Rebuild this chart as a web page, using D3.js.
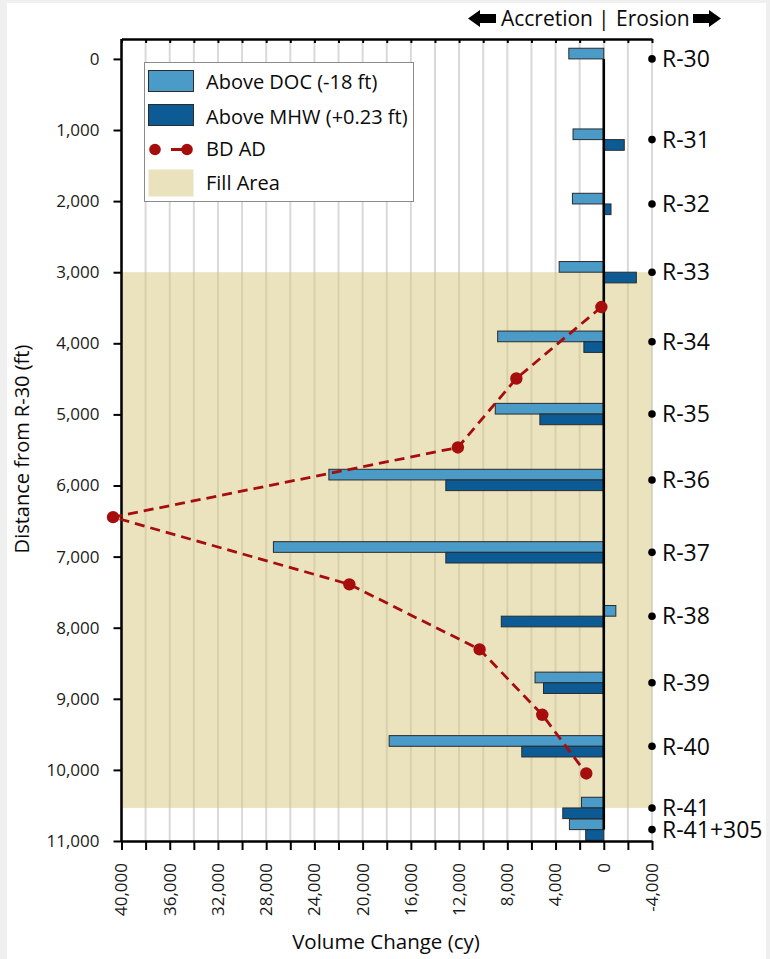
<!DOCTYPE html>
<html>
<head>
<meta charset="utf-8">
<script src="https://cdn.jsdelivr.net/npm/d3@7/dist/d3.min.js"></script>
<style>
  html, body { margin: 0; padding: 0; background: #efefef; }
  svg { display: block; font-family: "Open Sans", sans-serif; }
</style>
</head>
<body>
<svg id="chart" width="770" height="959"></svg>
<script>
// ---------------- data ----------------
const stations = ["R-30","R-31","R-32","R-33","R-34","R-35","R-36","R-37","R-38","R-39","R-40","R-41","R-41+305"];
const stationDist = [0, 1135, 2040, 3000, 3978, 4995, 5922, 6940, 7838, 8775, 9668, 10535, 10840];
const aboveDOC = [2900, 2550, 2600, 3700, 8800, 9000, 22800, 27400, -1000, 5700, 17800, 1850, 2850];
const aboveMHW = [0, -1700, -600, -2700, 1650, 5300, 13100, 13100, 8500, 5000, 6800, 3400, 1500];
const bdDist = [3490, 4495, 5465, 6445, 7390, 8305, 9225, 10050];
const bdVal  = [200, 7250, 12100, 40700, 21100, 10300, 5100, 1450];
const fillStart = 3000, fillEnd = 10535;
const xTicks = [40000, 36000, 32000, 28000, 24000, 20000, 16000, 12000, 8000, 4000, 0, -4000];
const yTicks = [0,1000,2000,3000,4000,5000,6000,7000,8000,9000,10000,11000];
const legendItems = ["Above DOC (-18 ft)", "Above MHW (+0.23 ft)", "BD AD", "Fill Area"];

// ---------------- layout ----------------
const svg = d3.select("#chart");
const L = 121.5, R = 652, T = 39, B = 841;
const x = d3.scaleLinear().domain([40000, -4000]).range([L, R]);
const y = d3.scaleLinear().domain([-280, 11000]).range([T, B]);
const barHalf = 150;

const LIGHT = "#4A9BC7", DARK = "#0D5B94", RED = "#A60D0D", FILL = "#E9E2BC", INK = "#0a0a0a";

svg.append("rect").attr("x", 7).attr("y", 3).attr("width", 759).attr("height", 956).attr("fill", "#fff");

// gridlines
svg.append("g").selectAll("line").data(d3.range(40000, -4001, -2000)).join("line")
  .attr("x1", d => x(d)).attr("x2", d => x(d))
  .attr("y1", T).attr("y2", B)
  .attr("stroke", "#d9d9d9").attr("stroke-width", 2);

// fill area
svg.append("rect")
  .attr("x", L).attr("width", R - L)
  .attr("y", y(fillStart)).attr("height", y(fillEnd) - y(fillStart))
  .attr("fill", "rgba(214,200,125,0.5)");

// bars
const data = stations.map((s, i) => ({s, d: stationDist[i], doc: aboveDOC[i], mhw: aboveMHW[i]}));
const gb = svg.append("g");
gb.selectAll("rect.doc").data(data.filter(d => d.doc !== 0)).join("rect")
  .attr("x", d => Math.min(x(d.doc), x(0)))
  .attr("width", d => Math.abs(x(d.doc) - x(0)))
  .attr("y", d => y(d.d - barHalf))
  .attr("height", d => y(d.d) - y(d.d - barHalf))
  .attr("fill", LIGHT).attr("stroke", "#2b2b2b").attr("stroke-width", 1);
gb.selectAll("rect.mhw").data(data.filter(d => d.mhw !== 0)).join("rect")
  .attr("x", d => Math.min(x(d.mhw), x(0)))
  .attr("width", d => Math.abs(x(d.mhw) - x(0)))
  .attr("y", d => y(d.d))
  .attr("height", d => y(d.d + barHalf) - y(d.d))
  .attr("fill", DARK).attr("stroke", "#2b2b2b").attr("stroke-width", 1);

// zero line
svg.append("line")
  .attr("x1", x(0)).attr("x2", x(0))
  .attr("y1", y(stationDist[0])).attr("y2", y(stationDist[stationDist.length - 1]))
  .attr("stroke", "#000").attr("stroke-width", 2.6);

// axes
const axisStyle = g => {
  g.select(".domain").attr("stroke", "#000").attr("stroke-width", 2.5);
  g.selectAll(".tick line").attr("stroke", "#000").attr("stroke-width", 2);
};
const gx = svg.append("g").attr("transform", `translate(0,${B})`)
  .call(d3.axisBottom(x).tickValues(d3.range(40000, -4001, -2000)).tickSize(9).tickSizeOuter(0).tickFormat(""));
axisStyle(gx);
// x tick labels (rotated)
svg.append("g").selectAll("text").data(xTicks).join("text")
  .attr("transform", d => `translate(${x(d)},${B + 22}) rotate(-90)`)
  .attr("text-anchor", "end").attr("dy", "0.35em")
  .attr("font-size", 17).attr("fill", "#1a1a1a")
  .text(d => d3.format(",")(d).replace("−", "-"));

const gt = svg.append("g").attr("transform", `translate(0,${T})`)
  .call(d3.axisBottom(x).tickValues(d3.range(40000, -4001, -2000)).tickSize(4).tickSizeOuter(0).tickFormat(""));
axisStyle(gt);

const gy = svg.append("g").attr("transform", `translate(${L},0)`)
  .call(d3.axisLeft(y).tickValues(yTicks).tickSize(8).tickSizeOuter(0).tickPadding(14).tickFormat(d3.format(",")));
axisStyle(gy);
gy.selectAll(".tick text").attr("font-size", 17).attr("font-family", "Open Sans").attr("fill", "#1a1a1a");
gy.select(".domain").attr("d", `M0,${T}V${B}`);

// BD AD line
const bd = bdDist.map((d, i) => ({d, v: bdVal[i]}));
svg.append("path").datum(bd)
  .attr("d", d3.line().x(p => x(p.v)).y(p => y(p.d)))
  .attr("fill", "none").attr("stroke", RED).attr("stroke-width", 2.8).attr("stroke-dasharray", "10,6");
svg.append("g").selectAll("circle").data(bd).join("circle")
  .attr("cx", p => x(p.v)).attr("cy", p => y(p.d)).attr("r", 6.2).attr("fill", RED);

// station labels
const gs = svg.append("g");
gs.selectAll("circle").data(data).join("circle")
  .attr("cx", R).attr("cy", d => y(d.d)).attr("r", 3.8).attr("fill", "#000");
gs.selectAll("text").data(data).join("text")
  .attr("x", R + 10).attr("y", d => y(d.d)).attr("dy", "0.36em")
  .attr("font-size", 23).attr("fill", INK).text(d => d.s);

// legend
const lg = svg.append("g");
lg.append("rect").attr("x", 144.5).attr("y", 62.5).attr("width", 269).attr("height", 139)
  .attr("fill", "#fff").attr("stroke", "#8a8a8a").attr("stroke-width", 1);
lg.append("rect").attr("x", 148.5).attr("y", 70.5).attr("width", 45).attr("height", 21)
  .attr("fill", LIGHT).attr("stroke", "#2b2b2b");
lg.append("rect").attr("x", 148.5).attr("y", 104.5).attr("width", 45).attr("height", 21)
  .attr("fill", DARK).attr("stroke", "#2b2b2b");
lg.append("line").attr("x1", 155).attr("x2", 187).attr("y1", 149.5).attr("y2", 149.5)
  .attr("stroke", RED).attr("stroke-width", 2.8).attr("stroke-dasharray", "0,16,16");
lg.append("circle").attr("cx", 155).attr("cy", 149.5).attr("r", 5.8).attr("fill", RED);
lg.append("circle").attr("cx", 187).attr("cy", 149.5).attr("r", 5.8).attr("fill", RED);
lg.append("rect").attr("x", 148.5).attr("y", 169.5).attr("width", 45).attr("height", 27).attr("fill", FILL);
lg.selectAll("text").data(legendItems).join("text")
  .attr("x", 206).attr("y", (d, i) => [88.5, 123.5, 155.5, 190][i])
  .attr("font-size", 20).attr("fill", INK).text(d => d);

// header
const hd = svg.append("g").attr("font-size", 21).attr("fill", INK);
hd.append("text").attr("x", 593).attr("y", 26).attr("text-anchor", "end").text("Accretion");
hd.append("text").attr("x", x(0)).attr("y", 26).attr("text-anchor", "middle").text("|");
hd.append("text").attr("x", 616).attr("y", 26).attr("text-anchor", "start").text("Erosion");
hd.append("path").attr("d", "M468,18.5 L480,10 L480,14 L496,14 L496,23 L480,23 L480,27 Z").attr("fill", "#000");
hd.append("path").attr("d", "M721,18.5 L709,10 L709,14 L693,14 L693,23 L709,23 L709,27 Z").attr("fill", "#000");

// axis titles
svg.append("text").attr("x", 386).attr("y", 949).attr("text-anchor", "middle")
  .attr("font-size", 20.5).attr("fill", INK).text("Volume Change (cy)");
svg.append("text").attr("transform", "translate(28.5,449) rotate(-90)").attr("text-anchor", "middle")
  .attr("font-size", 20).attr("fill", INK).text("Distance from R-30 (ft)");
</script>
</body>
</html>
